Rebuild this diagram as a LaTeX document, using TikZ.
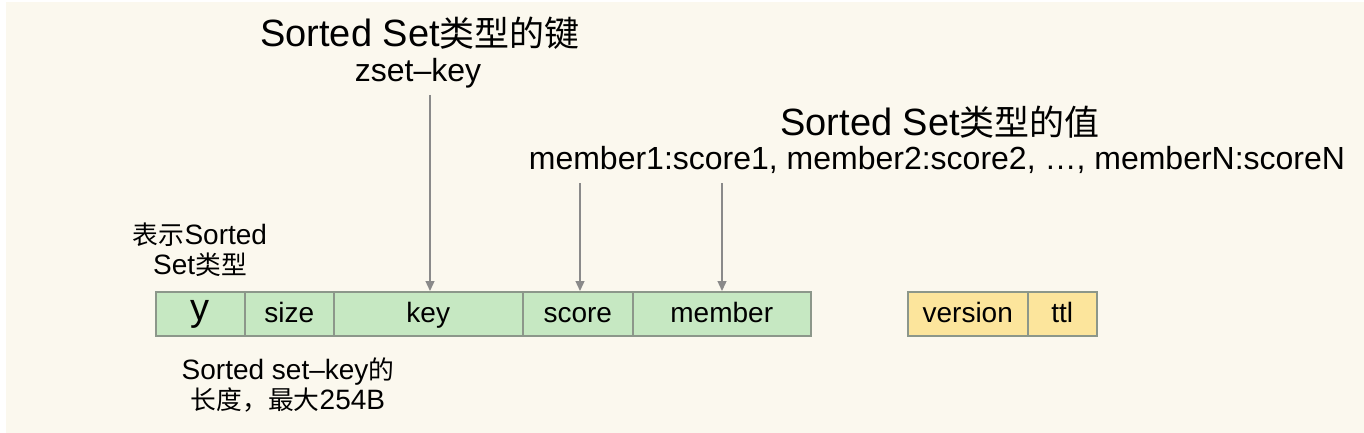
\documentclass[tikz,border=0pt]{standalone}
\usepackage{fontspec}
\setmainfont{Liberation Sans}
\newfontfamily\cjk[Scale=0.92]{Noto Sans CJK SC}
\newcommand{\zh}[1]{{\cjk #1}}
\usetikzlibrary{arrows.meta}
\definecolor{bgc}{HTML}{FBF8EE}
\definecolor{greenc}{HTML}{C6E8C2}
\definecolor{yellowc}{HTML}{FCE59C}
\definecolor{edgec}{HTML}{8C978A}
\definecolor{arrowc}{HTML}{8A8A8A}
\tikzset{
  cell/.style={draw=edgec, line width=1.5pt, minimum height=44pt, inner sep=0pt, text height=22pt, text depth=4pt, anchor=north west, font=\fontsize{28}{30}\selectfont},
  gcell/.style={cell, fill=greenc},
  ycell/.style={cell, fill=yellowc},
  arr/.style={draw=arrowc, line width=1.3pt, -{Triangle[length=10pt,width=9pt]}},
  title/.style={font=\fontsize{38}{40}\selectfont, inner sep=0pt},
  sub/.style={font=\fontsize{32}{34}\selectfont, inner sep=0pt},
  note/.style={font=\fontsize{28}{30}\selectfont, align=center, inner sep=0pt}
}
\begin{document}
\begin{tikzpicture}[x=1pt,y=-1pt]
\useasboundingbox (0,0) rectangle (1364,433);
\fill[white] (0,0) rectangle (1364,433);
\fill[bgc] (6,2) rectangle (1364,433);
% green row
\node[gcell, minimum width=89pt, text height=20pt, text depth=6pt] (y) at (155,291) {\fontsize{38}{38}\selectfont y};
\node[gcell, minimum width=89pt] (size) at (244,291) {size};
\node[gcell, minimum width=189pt] (key) at (333,291) {key};
\node[gcell, minimum width=110pt] (score) at (522,291) {score};
\node[gcell, minimum width=178pt] (member) at (632,291) {member};
% yellow row
\node[ycell, minimum width=120pt] (version) at (907,291) {version};
\node[ycell, minimum width=69pt] (ttl) at (1027,291) {ttl};
% texts
\node[title] (kt) at (420,33) {Sorted Set\zh{类型的键}};
\node[sub] (zk) at (418,73) {zset–key};
\node[title] (vt) at (940,122) {Sorted Set\zh{类型的值}};
\node[sub] (mv) at (937,160) {member1:score1, member2:score2, …, memberN:scoreN};
\node[note] (tn) at (200,250) {\zh{表示}Sorted\\Set\zh{类型}};
\node[note] (ln) at (288,385) {Sorted set–key\zh{的}\\\zh{长度，最大}254B};
% arrows
\coordinate (kA) at (430,95);
\coordinate (sA) at (580,183);
\coordinate (mA) at (722,183);
\draw[arr] (kA) -- (key.north -| kA);
\draw[arr] (sA) -- (score.north -| sA);
\draw[arr] (mA) -- (member.north -| mA);
\end{tikzpicture}
\end{document}
